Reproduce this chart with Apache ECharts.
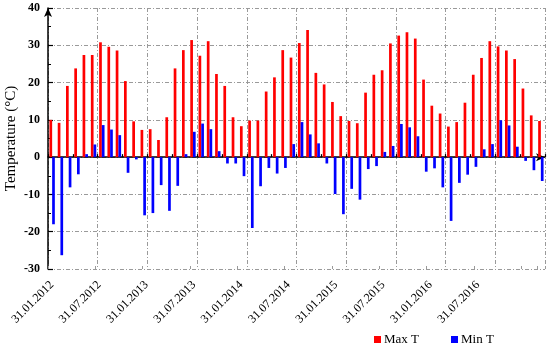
<!DOCTYPE html>
<html>
<head>
<meta charset="utf-8">
<script src="https://cdn.jsdelivr.net/npm/echarts@6/dist/echarts.min.js"></script>
<style>html,body{margin:0;padding:0;background:#fff}#c{width:550px;height:347px}</style>
</head>
<body>
<div id="c"></div>
<script>
// Monthly categories Jan 2012 .. Dec 2016
var years = [2012, 2013, 2014, 2015, 2016];
var months = ['01','02','03','04','05','06','07','08','09','10','11','12'];
var categories = [];
years.forEach(function (y) { months.forEach(function (m) { categories.push(m + '.' + y); }); });

var maxT = [
  10.0, 9.2, 19.1, 23.8, 27.4, 27.4, 30.8, 29.6, 28.6, 20.4, 9.6, 7.3,
  7.5, 4.6, 10.7, 23.8, 28.7, 31.4, 27.2, 31.1, 22.3, 19.1, 10.7, 8.3,
  9.8, 9.8, 17.6, 21.4, 28.7, 26.7, 30.6, 34.1, 22.6, 19.5, 14.8, 11.0,
  9.7, 9.1, 17.3, 22.1, 23.3, 30.5, 32.6, 33.5, 31.8, 20.8, 13.8, 11.7,
  8.2, 9.4, 14.6, 22.1, 26.6, 31.1, 29.7, 28.6, 26.3, 18.4, 11.2, 9.7
];
var minT = [
  -18.0, -26.3, -8.1, -4.6, 0.8, 3.4, 8.6, 7.4, 5.9, -4.2, -0.6, -15.6,
  -15.0, -7.5, -14.4, -7.7, 0.8, 6.8, 9.0, 7.5, 1.6, -1.7, -1.7, -5.1,
  -19.0, -7.8, -2.9, -4.4, -2.9, 3.5, 9.4, 6.1, 3.7, -1.7, -9.9, -15.3,
  -8.5, -11.4, -3.2, -2.4, 1.4, 3.0, 8.9, 8.0, 5.6, -3.9, -3.0, -8.1,
  -17.1, -6.9, -4.7, -2.6, 2.1, 3.5, 9.9, 8.5, 2.8, -1.0, -3.5, -6.4
];
var tickLabels = ['31.01.2012','31.07.2012','31.01.2013','31.07.2013','31.01.2014',
                  '31.07.2014','31.01.2015','31.07.2015','31.01.2016','31.07.2016'];
// label slots along the bottom axis (one slot per labelled step of 6)
var labelSlots = [];
for (var i = 0; i < 63; i++) {
  labelSlots.push(i % 6 === 0 && tickLabels[i / 6] ? tickLabels[i / 6] : '');
}

var serif = '"Liberation Serif", "DejaVu Serif", serif';
var gridLine = { color: '#9a9a9a', width: 1, type: [4, 2, 1, 2] };

var chart = echarts.init(document.getElementById('c'), null, { renderer: 'canvas' });
chart.setOption({
  animation: false,
  backgroundColor: '#fff',
  grid: { left: 48, right: 5, top: 8, bottom: 78, containLabel: false, outerBoundsMode: 'none' },
  legend: {
    data: ['Max T', 'Min T'],
    left: 369, top: 328,
    icon: 'rect', itemWidth: 7, itemHeight: 7, itemGap: 32,
    textStyle: { fontFamily: serif, fontSize: 13, color: '#000', padding: [0, 0, 0, -2] }
  },
  xAxis: [
    {
      type: 'category', data: categories, position: 'top',
      axisLine: { show: true, onZero: true, lineStyle: { color: '#000', width: 1.5 },
                  symbol: ['none', 'arrow'], symbolSize: [6, 9] },
      axisTick: { show: true, interval: 2, length: 3, inside: false, lineStyle: { color: '#000', width: 1.2 } },
      axisLabel: { show: false },
      splitLine: { show: true, interval: 5, lineStyle: gridLine }
    },
    {
      type: 'category', data: labelSlots, position: 'bottom',
      axisLine: { show: false, onZero: false },
      axisTick: { show: true, interval: 5, length: 3, inside: true, lineStyle: { color: '#9a9a9a' } },
      axisLabel: { show: true, interval: 0, rotate: 45, margin: 14, fontFamily: serif, fontSize: 12, color: '#000' },
      splitLine: { show: false }
    }
  ],
  yAxis: {
    type: 'value', min: -30, max: 40, interval: 10,
    name: 'Temperature (°C)', nameLocation: 'middle', nameGap: 29, nameMoveOverlap: false,
    nameTextStyle: { fontFamily: serif, fontSize: 15, color: '#000' },
    axisLine: { show: true, onZero: false, lineStyle: { color: '#000', width: 1.5 },
                symbol: ['none', 'arrow'], symbolSize: [6, 9] },
    axisTick: { show: true, inside: true, length: 5, lineStyle: { color: '#000', width: 1.2 } },
    minorTick: { show: true, splitNumber: 2, length: 3, lineStyle: { color: '#000', width: 1 } },
    axisLabel: { fontFamily: serif, fontSize: 12, fontWeight: 'bold', color: '#000', margin: 8 },
    splitLine: { show: true, lineStyle: gridLine }
  },
  series: [
    { name: 'Max T', type: 'bar', xAxisIndex: 0, data: maxT, barWidth: 2.7, barGap: '0%',
      itemStyle: { color: '#ff0000' } },
    { name: 'Min T', type: 'bar', xAxisIndex: 0, data: minT, barWidth: 2.7, barGap: '0%',
      itemStyle: { color: '#0000ff' } }
  ]
});
</script>
</body>
</html>
